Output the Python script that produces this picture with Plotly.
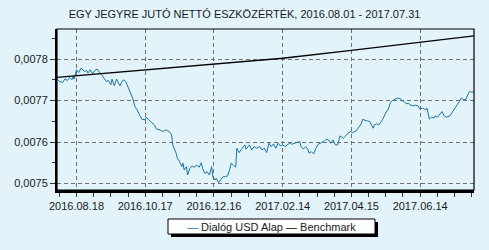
import pandas as pd
import plotly.graph_objects as go

START = "2016-08-01"

# Dialóg USD Alap: day offsets from 2016-08-01 and NAV values
fund_days = [0, 2, 5, 7, 9, 11, 13, 14, 15, 17, 19, 21, 24, 26, 27, 29, 31, 33, 35, 37,
             39, 41, 43, 45, 47, 48, 50, 52, 55, 56, 58, 60, 62, 64, 66, 68, 70, 72, 74, 77,
             78, 80, 82, 85, 87, 90, 92, 95, 98, 100, 101, 104, 105, 107, 109, 110, 111, 113, 114, 116,
             118, 120, 122, 124, 126, 127, 129, 131, 133, 135, 136, 138, 139, 141, 143, 145, 147, 149, 151, 152,
             154, 156, 157, 159, 161, 164, 165, 168, 170, 172, 174, 177, 179, 181, 183, 185, 187, 189, 191, 193,
             195, 197, 199, 201, 203, 205, 207, 210, 212, 213, 215, 217, 219, 220, 222, 224, 226, 228, 231, 233,
             235, 237, 239, 241, 243, 245, 247, 250, 252, 254, 256, 258, 261, 263, 265, 267, 269, 271, 273, 276,
             277, 279, 281, 284, 286, 288, 289, 291, 293, 295, 297, 300, 301, 303, 305, 307, 308, 311, 313, 315,
             317, 319, 322, 323, 325, 327, 329, 330, 332, 335, 336, 338, 340, 343, 345, 347, 349, 351, 353, 355,
             357, 359, 360, 362, 364]
fund_values = [0.0077517, 0.0077459, 0.0077435, 0.0077524, 0.0077483, 0.0077556, 0.0077500, 0.0077580, 0.0077517, 0.0077742,
               0.0077676, 0.0077783, 0.0077700, 0.0077725, 0.0077662, 0.0077742, 0.0077645, 0.0077725, 0.0077758, 0.0077700,
               0.0077621, 0.0077541, 0.0077459, 0.0077483, 0.0077379, 0.0077517, 0.0077355, 0.0077517, 0.0077355, 0.0077420,
               0.0077500, 0.0077459, 0.0077338, 0.0077217, 0.0077058, 0.0076855, 0.0076775, 0.0076655, 0.0076551, 0.0076534,
               0.0076599, 0.0076534, 0.0076493, 0.0076413, 0.0076309, 0.0076292, 0.0076251, 0.0076292, 0.0076251, 0.0076171,
               0.0075930, 0.0075729, 0.0075609, 0.0075527, 0.0075406, 0.0075488, 0.0075326, 0.0075406, 0.0075205, 0.0075367,
               0.0075423, 0.0075391, 0.0075447, 0.0075391, 0.0075502, 0.0075367, 0.0075246, 0.0075285, 0.0075205, 0.0075406,
               0.0075164, 0.0075084, 0.0075126, 0.0075019, 0.0075101, 0.0075164, 0.0075164, 0.0075188, 0.0075367, 0.0075488,
               0.0075447, 0.0075391, 0.0075850, 0.0075744, 0.0075826, 0.0075930, 0.0075826, 0.0075930, 0.0075809, 0.0075889,
               0.0075850, 0.0075889, 0.0075809, 0.0075850, 0.0075744, 0.0075971, 0.0075889, 0.0075954, 0.0075850, 0.0075971,
               0.0075906, 0.0075930, 0.0075889, 0.0075930, 0.0075971, 0.0075947, 0.0075971, 0.0075995, 0.0076010, 0.0075889,
               0.0075833, 0.0075889, 0.0075826, 0.0075729, 0.0075768, 0.0075712, 0.0075850, 0.0075947, 0.0075985, 0.0076010,
               0.0076068, 0.0076051, 0.0075971, 0.0076051, 0.0075930, 0.0075930, 0.0076147, 0.0076092, 0.0076147, 0.0076213,
               0.0076251, 0.0076227, 0.0076268, 0.0076333, 0.0076413, 0.0076551, 0.0076517, 0.0076510, 0.0076493, 0.0076333,
               0.0076413, 0.0076437, 0.0076413, 0.0076534, 0.0076655, 0.0076758, 0.0076775, 0.0076952, 0.0077000, 0.0077034,
               0.0077058, 0.0077041, 0.0077000, 0.0076976, 0.0076920, 0.0076937, 0.0076896, 0.0076872, 0.0076889, 0.0076872,
               0.0076792, 0.0076816, 0.0076775, 0.0076816, 0.0076551, 0.0076599, 0.0076575, 0.0076630, 0.0076599, 0.0076696,
               0.0076734, 0.0076630, 0.0076599, 0.0076630, 0.0076710, 0.0076816, 0.0076872, 0.0076976, 0.0077058, 0.0077017,
               0.0077034, 0.0077162, 0.0077217, 0.0077203, 0.0077203]

# Benchmark
bench_days = [0, 77, 137, 197, 257, 317, 364]
bench_values = [0.007756, 0.007774, 0.007788, 0.007802, 0.007821, 0.007840, 0.007856]

tick_labels = ["2016.08.18", "2016.10.17", "2016.12.16", "2017.02.14", "2017.04.15", "2017.06.14"]
y_ticks = [0.0075, 0.0076, 0.0077, 0.0078]

title_text = "EGY JEGYRE JUTÓ NETTÓ ESZKÖZÉRTÉK, 2016.08.01 - 2017.07.31"
fund_name = "Dialóg USD Alap"
bench_name = "Benchmark"

start = pd.Timestamp(START)
fund_x = [start + pd.Timedelta(days=d) for d in fund_days]
bench_x = [start + pd.Timedelta(days=d) for d in bench_days]
tick_x = [pd.Timestamp(t.replace(".", "-")) for t in tick_labels]

BG = "#E2F3FA"
FUND_COLOR = "#1F74A3"
GRID = "#707070"
FONT = "Liberation Sans, Arial, sans-serif"

fig = go.Figure()
fig.add_trace(go.Scatter(x=fund_x, y=fund_values, mode="lines", name=fund_name,
                         line=dict(color=FUND_COLOR, width=1)))
fig.add_trace(go.Scatter(x=bench_x, y=bench_values, mode="lines", name=bench_name,
                         line=dict(color="#000000", width=1.3)))

fig.update_layout(
    width=489, height=250,
    margin=dict(l=57, r=15, t=29, b=60),
    paper_bgcolor=BG, plot_bgcolor=BG,
    separators=", ",
    showlegend=False,
    font=dict(family=FONT, size=11, color="#1a1a1a"),
    title=dict(text=title_text, x=0.5, xanchor="center", y=1 - 14 / 250, yanchor="middle",
               font=dict(family=FONT, size=11, color="#1a1a1a")),
    xaxis=dict(
        type="date",
        range=[start, start + pd.Timedelta(days=364)],
        tickvals=tick_x, ticktext=tick_labels,
        ticks="outside", ticklen=4, tickcolor="#333", tickwidth=1,
        showgrid=True, gridcolor=GRID, griddash="4px,3px", gridwidth=1,
        showline=True, linecolor="#000", linewidth=3,
        zeroline=False,
        minor=dict(dtick=15 * 86400000, tick0=tick_x[0], ticks="outside", ticklen=4,
                   tickcolor="#333", showgrid=False),
        tickfont=dict(family=FONT, size=11, color="#1a1a1a"),
    ),
    yaxis=dict(
        range=[0.0074843, 0.0078725],
        tickvals=y_ticks, tickformat=".4f",
        ticks="outside", ticklen=5, tickcolor="#333", tickwidth=1,
        showgrid=True, gridcolor=GRID, griddash="4px,3px", gridwidth=1,
        showline=True, linecolor="#000", linewidth=2,
        zeroline=False,
        minor=dict(dtick=0.00005, tick0=0.0075, ticks="outside", ticklen=3,
                   tickcolor="#333", showgrid=False),
        tickfont=dict(family=FONT, size=11, color="#1a1a1a"),
    ),
)

# thin frame (top/right)
fig.add_shape(type="rect", xref="paper", yref="paper", x0=0, x1=1, y0=0, y1=1,
              line=dict(color="#000", width=1.2), layer="above")

# manual legend with shadow
lx0, lx1, ly0, ly1 = 168, 375, 219, 234
def px(x):
    return (x - 57) / (489 - 57 - 15)
def py(y):
    return (250 - 60 - y) / (250 - 29 - 60)
fig.add_shape(type="rect", xref="paper", yref="paper",
              x0=px(lx0 + 3), x1=px(lx1 + 3), y0=py(ly1 + 3), y1=py(ly0 + 3),
              fillcolor="#000", line=dict(width=0), layer="above")
fig.add_shape(type="rect", xref="paper", yref="paper",
              x0=px(lx0), x1=px(lx1), y0=py(ly1), y1=py(ly0),
              fillcolor="#ffffff", line=dict(color="#000", width=1), layer="above")
fig.add_annotation(xref="paper", yref="paper", x=px((lx0 + lx1) / 2), y=py((ly0 + ly1) / 2),
                   xanchor="center", yanchor="middle", showarrow=False,
                   text=f"<span style='color:{FUND_COLOR}'>—</span> {fund_name} "
                        f"<span style='color:#000'>—</span> {bench_name}",
                   font=dict(family=FONT, size=11, color="#1a1a1a"))

fig.write_html("out.html")
